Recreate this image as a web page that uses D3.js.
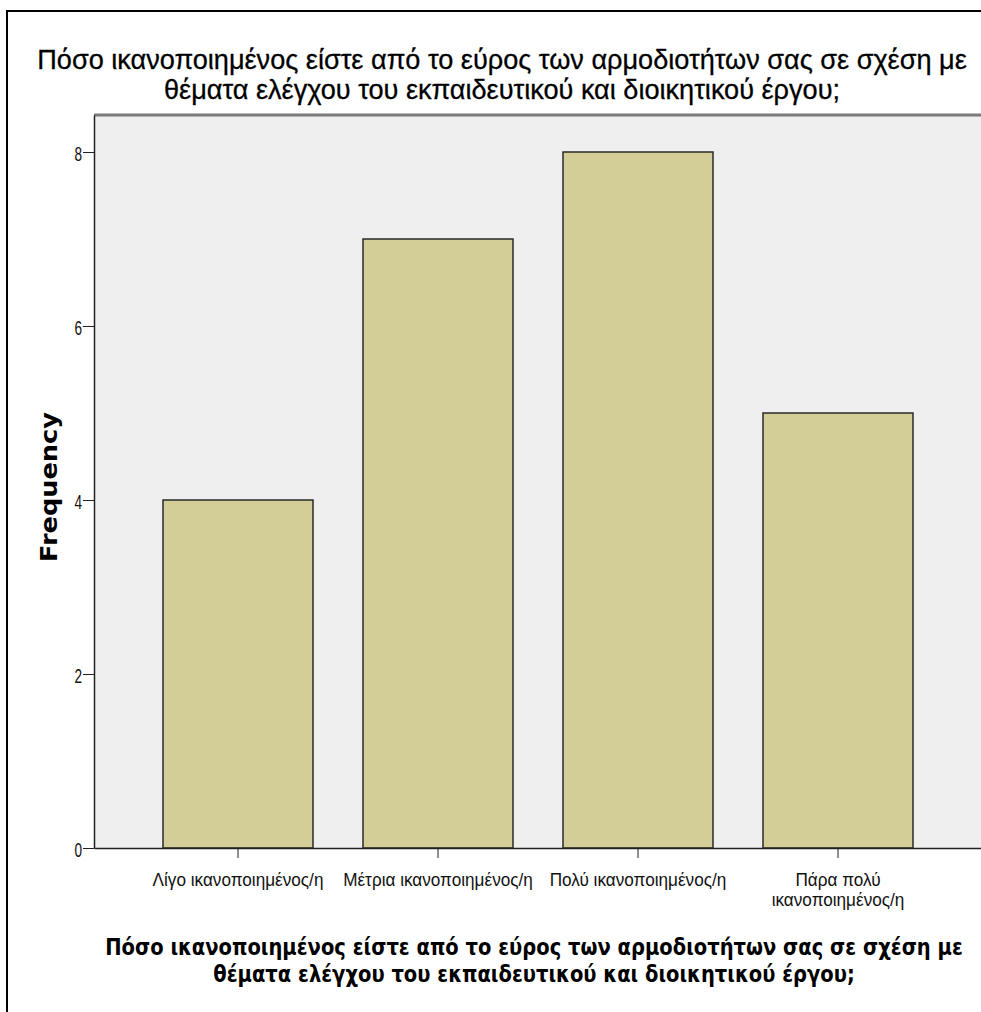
<!DOCTYPE html>
<html>
<head>
<meta charset="utf-8">
<script src="https://cdn.jsdelivr.net/npm/d3@7"></script>
<style>
  html, body { margin: 0; padding: 0; background: #fff; }
  svg { display: block; }
</style>
</head>
<body>
<svg id="chart" width="981" height="1012"></svg>
<script>
// Frequencies of satisfaction responses
const categories = [
  ["Λίγο ικανοποιημένος/η"],
  ["Μέτρια ικανοποιημένος/η"],
  ["Πολύ ικανοποιημένος/η"],
  ["Πάρα πολύ", "ικανοποιημένος/η"]
];
const frequencies = [4, 7, 8, 5];
const yTicks = [0, 2, 4, 6, 8];
const titleLines = [
  "Πόσο ικανοποιημένος είστε από το εύρος των αρμοδιοτήτων σας σε σχέση με",
  "θέματα ελέγχου του εκπαιδευτικού και διοικητικού έργου;"
];
const yTitle = "Frequency";

const svg = d3.select("#chart");
const sans = "'Liberation Sans', Arial, sans-serif";
const wide = "'DejaVu Sans', Verdana, sans-serif";

const plot = { left: 94, right: 982, top: 115, bottom: 848 };

// squeeze or stretch a text group horizontally so its widest part spans `target` px
function fitWidth(g, cx, target) {
  const w = g.node().getBBox().width;
  g.attr("transform", `translate(${cx},0) scale(${target / w},1)`);
  return target / w;
}

// outer frame (left and top edges visible)
svg.append("path")
  .attr("d", "M7,1012 V11 H981")
  .attr("fill", "none").attr("stroke", "#000").attr("stroke-width", 2);

// plot background
svg.append("rect")
  .attr("x", plot.left).attr("y", plot.top)
  .attr("width", plot.right - plot.left).attr("height", plot.bottom - plot.top)
  .attr("fill", "#efefef");
svg.append("line")
  .attr("x1", plot.left).attr("x2", plot.right)
  .attr("y1", plot.top).attr("y2", plot.top)
  .attr("stroke", "#7a7a7a").attr("stroke-width", 3);

const x = d3.scaleBand()
  .domain(d3.range(categories.length))
  .range([plot.left, plot.right])
  .paddingInner(0.25)
  .paddingOuter(0.345);

const y = d3.scaleLinear()
  .domain([0, (plot.bottom - plot.top) / 87])
  .range([plot.bottom, plot.top]);

// bars
svg.append("g").selectAll("rect")
  .data(frequencies)
  .join("rect")
  .attr("x", (d, i) => x(i))
  .attr("y", d => y(d))
  .attr("width", x.bandwidth())
  .attr("height", d => y(0) - y(d))
  .attr("fill", "#d3ce97")
  .attr("stroke", "#2a2a2a")
  .attr("stroke-width", 1.5);

// y axis
const yAxis = svg.append("g")
  .attr("transform", `translate(${plot.left},0)`)
  .call(d3.axisLeft(y).tickValues(yTicks).tickSize(11).tickSizeOuter(0));
yAxis.select(".domain").attr("stroke", "#222").attr("stroke-width", 1.5);
yAxis.selectAll(".tick line").attr("stroke", "#222");
yAxis.selectAll(".tick text")
  .attr("font-family", sans).attr("font-size", 20).attr("fill", "#111")
  .attr("dy", "0.4em")
  .attr("transform", "scale(0.68,1)")
  .attr("x", -12 / 0.68);

// x axis
const xAxis = svg.append("g")
  .attr("transform", `translate(0,${plot.bottom})`)
  .call(d3.axisBottom(x).tickSize(10).tickSizeOuter(0).tickFormat(""));
xAxis.select(".domain").attr("stroke", "#222").attr("stroke-width", 1.5);
xAxis.selectAll(".tick line").attr("stroke", "#222");
xAxis.selectAll(".tick text").remove();
xAxis.selectAll(".tick").each(function (d) {
  const t = d3.select(this).append("text")
    .attr("class", "cat-label")
    .attr("text-anchor", "middle")
    .attr("font-family", sans).attr("font-size", 19).attr("fill", "#111");
  categories[d].forEach((line, k) => {
    t.append("tspan").attr("x", 0).attr("y", 38 + k * 20).text(line);
  });
});
// first label spans ~171px; use one horizontal squeeze for all category labels
{
  const first = xAxis.select(".cat-label").node();
  const labelScale = 171 / first.getBBox().width;
  xAxis.selectAll(".cat-label").attr("transform", `scale(${labelScale},1)`);
}

// title
const title = svg.append("g");
title.append("text")
  .attr("text-anchor", "middle")
  .attr("font-family", sans).attr("font-size", 28).attr("fill", "#000")
  .attr("stroke", "#000").attr("stroke-width", 0.3)
  .selectAll("tspan").data(titleLines).join("tspan")
  .attr("x", 0).attr("y", (d, i) => 69 + i * 30).text(d => d);
fitWidth(title, 502, 930);

// x axis title
const xTitle = svg.append("g");
xTitle.append("text")
  .attr("text-anchor", "middle")
  .attr("font-family", wide).attr("font-weight", "bold").attr("font-size", 23).attr("fill", "#000")
  .selectAll("tspan").data(titleLines).join("tspan")
  .attr("x", 0).attr("y", (d, i) => 955 + i * 27).text(d => d);
fitWidth(xTitle, 534, 858);

// y axis title
const yT = svg.append("text")
  .attr("text-anchor", "middle")
  .attr("font-family", wide).attr("font-weight", "bold").attr("font-size", 23).attr("fill", "#000")
  .text(yTitle);
const yLen = yT.node().getComputedTextLength();
yT.attr("transform", `translate(57,487) rotate(-90) scale(${150 / yLen},1)`);
</script>
</body>
</html>
